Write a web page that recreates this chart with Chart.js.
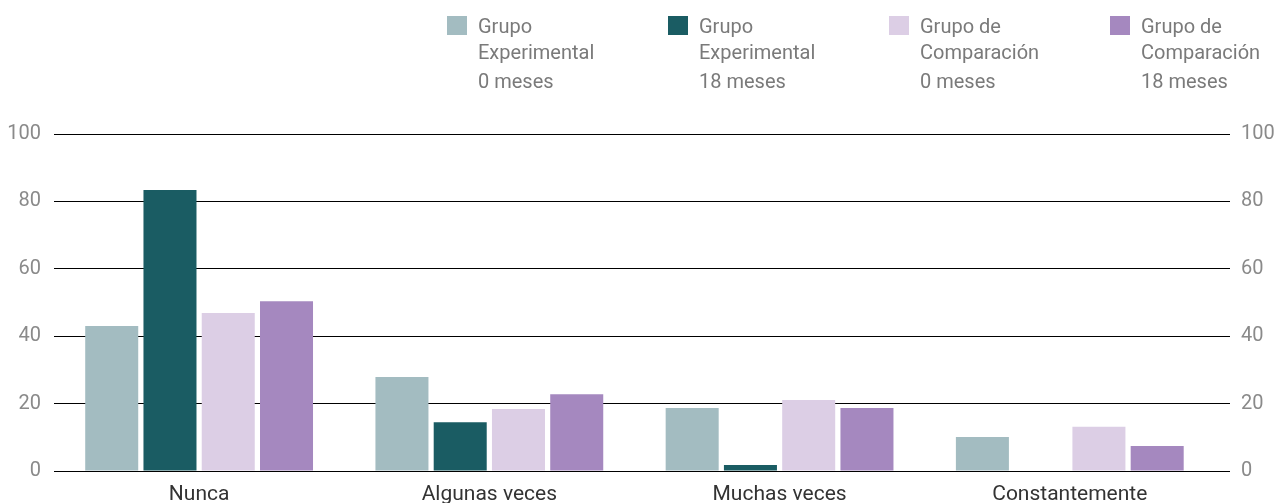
<!DOCTYPE html>
<html>
<head>
<meta charset="utf-8">
<script src="https://cdn.jsdelivr.net/npm/chart.js@4"></script>
<style>
  body { margin: 0; background: #fff; font-family: Roboto, sans-serif; }
  #wrap { position: relative; width: 1277px; height: 503px; }
  #legend { position: absolute; left: 447px; top: 13px; display: flex; }
  .item { display: flex; width: 221px; }
  .box { width: 20px; height: 19px; margin-top: 3px; margin-right: 11px; flex: none; }
  .txt { color: #7a7a7a; font-size: 20px; }
  .txt div { line-height: 26px; }
  .txt div.last { margin-top: 3px; }
</style>
</head>
<body>
<div id="wrap">
  <canvas id="chart" width="1277" height="503"></canvas>
  <div id="legend"></div>
</div>
<script>
// categorías y series
var categorias = ["Nunca", "Algunas veces", "Muchas veces", "Constantemente"];
var expe0 = [43.0, 27.9, 18.7, 10.1];
var expe18 = [83.4, 14.5, 1.8, 0];
var comp0 = [46.9, 18.4, 21.1, 13.1];
var comp18 = [50.4, 22.8, 18.7, 7.4];
var nombres = [
    ["Grupo", "Experimental", "0 meses"],
    ["Grupo", "Experimental", "18 meses"],
    ["Grupo de", "Comparación", "0 meses"],
    ["Grupo de", "Comparación", "18 meses"]
];
var colores = ["#a3bcc1", "#1a5c63", "#dccee5", "#a588bf"];
var ticksY = [0, 20, 40, 60, 80, 100];

var series = [expe0, expe18, comp0, comp18];

// leyenda en html (textos de varias líneas)
var legend = document.getElementById("legend");
nombres.forEach(function (n, i) {
    var item = document.createElement("div");
    item.className = "item";
    item.innerHTML = '<div class="box" style="background:' + colores[i] + '"></div>' +
        '<div class="txt"><div>' + n[0] + '</div><div>' + n[1] + '</div><div class="last">' + n[2] + '</div></div>';
    legend.appendChild(item);
});

var ctx = document.getElementById("chart");
var chart = new Chart(ctx, {
    type: "bar",
    data: {
        labels: categorias,
        datasets: series.map(function (d, i) {
            return {
                label: nombres[i].join(" "),
                data: d,
                backgroundColor: colores[i],
                categoryPercentage: 0.803,
                barPercentage: 0.91
            };
        })
    },
    options: {
        responsive: false,
        animation: false,
        layout: { padding: { top: 134, left: 8, right: 0, bottom: 0 } },
        plugins: { legend: { display: false }, tooltip: { enabled: false } },
        scales: {
            x: {
                grid: { display: false },
                border: { display: false },
                ticks: { color: "#333", font: { family: "Roboto", size: 21 }, padding: 3 },
                // las categorías no llegan hasta el final de las líneas de la derecha
                afterBuildTicks: function (axis) { axis._startValue = -0.5; axis._valueRange = 4.052; },
                afterFit: function (axis) { axis.height = 32; }
            },
            y: {
                min: 0, max: 100,
                afterBuildTicks: function (axis) { axis.ticks = ticksY.map(function (v) { return { value: v }; }); },
                grid: { color: "#000", lineWidth: 1, drawTicks: false },
                border: { display: false },
                ticks: { color: "#8a8a8a", font: { family: "Roboto", size: 20 }, padding: 13 },
                afterFit: function (axis) { axis.width = 46; }
            },
            y2: {
                position: "right",
                min: 0, max: 100,
                afterBuildTicks: function (axis) { axis.ticks = ticksY.map(function (v) { return { value: v }; }); },
                grid: { display: false, drawTicks: false },
                border: { display: false },
                ticks: { color: "#8a8a8a", font: { family: "Roboto", size: 20 }, padding: 11 },
                afterFit: function (axis) { axis.width = 47; }
            }
        }
    }
});
</script>
</body>
</html>
